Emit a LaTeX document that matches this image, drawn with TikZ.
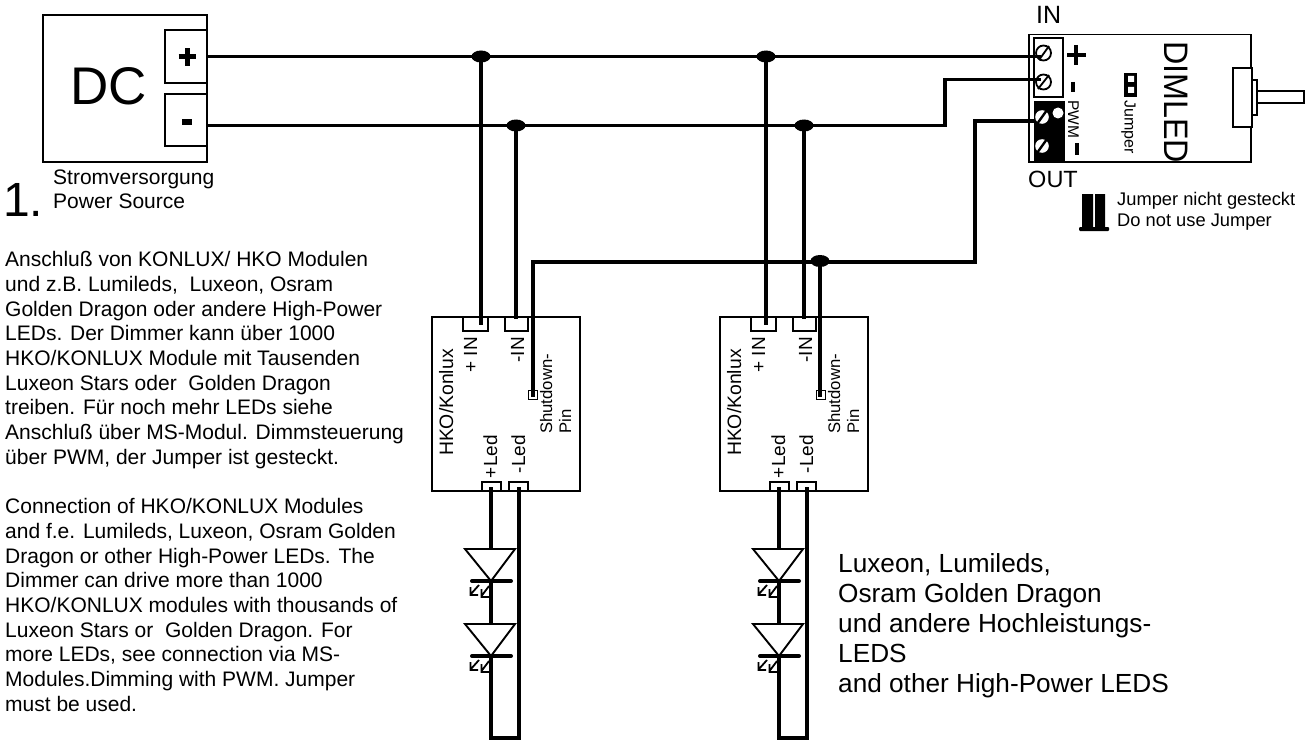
\documentclass[tikz,border=0pt]{standalone}
\usepackage{fontspec}
\setmainfont{Liberation Sans}
\usetikzlibrary{shapes.geometric}
\tikzset{
 wire/.style={line width=3.8pt},
 thin box/.style={draw,line width=1.7pt,fill=white},
 txt/.style={inner sep=0pt,font=\fontsize{#1}{#1}\selectfont},
 rtxt/.style={inner sep=0pt,rotate=90,anchor=base east,font=\fontsize{#1}{#1}\selectfont},
 rstxt/.style={inner sep=0pt,rotate=90,anchor=base west,font=\fontsize{#1}{#1}\selectfont},
 dot/.style={ellipse,fill=black,inner sep=0pt,minimum width=19pt,minimum height=12pt},
 para/.style={inner sep=0pt,anchor=north west,align=left,font=\fontsize{21}{24.65}\selectfont},
 big/.style={inner sep=0pt,anchor=north west,align=left,font=\fontsize{26.2}{30.1}\selectfont},
 lightarrow/.style={line width=1.8pt,line join=miter},
}
\newcommand{\ledpair}[1]{%
  \begin{scope}[xshift=#1pt]
   \foreach \yy in {0,75}{
    \begin{scope}[yshift=-\yy pt]
     \draw[line width=1.9pt,fill=white,line join=miter] (465,549)--(515,549)--(491,581)--cycle;
     \draw[line width=4pt,line cap=round] (472,581)--(511,581);
     \draw[lightarrow] (479,585)--(470.5,594.5) (470.5,587)--(470.5,595)--(478,595);
     \draw[lightarrow] (489,586)--(481.5,596) (481.5,589)--(481.5,597)--(489,597);
    \end{scope}}
  \end{scope}
}
\newcommand{\hkomod}[1]{%
  \begin{scope}[xshift=#1pt]
   \draw[line width=1.9pt] (432,317) rectangle (580,491);
   \draw[thin box] (463,317) rectangle (488,331);
   \draw[thin box] (505,317) rectangle (528,331);
   \draw[thin box] (482,482) rectangle (501,491);
   \draw[thin box] (509,482) rectangle (528,491);
   \draw[thin box] (528.5,390.5) rectangle (537.5,399.5);
   \draw[wire] (491,487)--(491,549);
   \draw[wire] (491,581)--(491,624);
   \draw[wire] (491,656)--(491,738)--(519,738)--(519,487);
   \node[rtxt=19.4] at (453,349) {HKO/Konlux};
   \node[rtxt=19] at (477,337) {+ IN};
   \node[rtxt=19] at (524,337) {-IN};
   \node[rtxt=19] at (497,435) {+Led};
   \node[rtxt=19] at (525,435) {-Led};
   \node[rstxt=16.7] at (552,434) {Shutdown-};
   \node[rstxt=16.7] at (571,434) {Pin};
  \end{scope}
}
\begin{document}
\begin{tikzpicture}[x=1pt,y=-1pt]
\useasboundingbox (0,0) rectangle (1313,741);
% modules
\hkomod{0}
\hkomod{288}
\ledpair{0}
\ledpair{288}
% junctions
\node[dot] (j1) at (481,56.5) {};
\node[dot] (j2) at (516,125.5) {};
\node[dot] (j3) at (766,56.5) {};
\node[dot] (j4) at (804,125.5) {};
\node[dot] (j5) at (820,261) {};
% DC
\draw[line width=1.7pt] (43,15) rectangle (207,162);
\draw[line width=1.7pt] (207,30)--(165,30)--(165,83)--(207,83);
\draw[line width=1.7pt] (207,94)--(165,94)--(165,146)--(207,146);
\coordinate (dcp) at (207,56.5);
\coordinate (dcm) at (207,125.5);
\node[txt=53] (dc) at (108.5,86.5) {DC};
\draw[line width=5pt] (178.5,57)--(195.5,57) (187,48.5)--(187,66);
\draw[line width=5pt] (182,122)--(192,122);
\node[para,font=\fontsize{21}{24.5}\selectfont] (src) at (53,169.5) {Stromversorgung\\Power Source};
\node[txt=48,anchor=base west] (one) at (3,216) {1.};
% texts
\node[para] (de) at (5,251.5) {Anschluß von KONLUX/ HKO Modulen\\und z.B. Lumileds,\ \ Luxeon, Osram\\Golden Dragon oder andere High-Power\\LEDs. Der Dimmer kann über 1000\\HKO/KONLUX Module mit Tausenden\\Luxeon Stars oder\ \ Golden Dragon\\treiben. Für noch mehr LEDs siehe\\Anschluß über MS-Modul. Dimmsteuerung\\über PWM, der Jumper ist gesteckt.};
\node[para] (en) at (5,498.5) {Connection of HKO/KONLUX Modules\\and f.e. Lumileds, Luxeon, Osram Golden\\Dragon or other High-Power LEDs. The\\Dimmer can drive more than 1000\\HKO/KONLUX modules with thousands of\\Luxeon Stars or\ \ Golden Dragon. For\\more LEDs, see connection via MS-\\Modules.Dimming with PWM. Jumper\\must be used.};
\node[big] (lx) at (838,553) {Luxeon, Lumileds,\\Osram Golden Dragon\\und andere Hochleistungs-\\LEDS\\and other High-Power LEDS};
% DIMLED
\draw[line width=1.9pt] (1029,34.5) rectangle (1251,162);
\draw[line width=1.5pt,fill=white] (1034,38) rectangle (1063,97);
\fill (1034,101) rectangle (1065,162);
\draw[line width=1.8pt,fill=white] (1043.5,53) circle (7.5pt);
\draw[line width=1.8pt,fill=white] (1043.5,82) circle (7.5pt);
\draw[line width=1.8pt] (1039,60)--(1049,46) (1038,89)--(1049,75);
\fill[white] (1042,117) circle (6.8pt) (1042,146) circle (6.8pt) (1058,113) circle (5.5pt);
\draw[line width=2.4pt] (1037,124)--(1047,110) (1037,153)--(1047,139);
\coordinate (inp) at (1041,56.5);
\coordinate (inm) at (1041,79.5);
\coordinate (pwmin) at (1034,121);
% wires
\draw[wire] (dcp)--(inp);
\draw[wire] (dcm)--(945,125.5)--(945,79.5)--(inm);
\draw[wire] (pwmin)--(975,121)--(975,262)--(533,262)--(533,397);
\draw[wire] (820,262)--(820,397);
\draw[wire] (j1.center)--(481,325);
\draw[wire] (j2.center)--(516,319);
\draw[wire] (j3.center)--(766,325);
\draw[wire] (j4.center)--(804,319);
\draw[line width=4pt] (1067,55)--(1086,55) (1076,45)--(1076,65);
\draw[line width=4pt] (1073,82)--(1073,92);
\draw[line width=4pt] (1077,143)--(1077,155);
\node[txt=15.5,rotate=-90,anchor=base west] (pwm) at (1068,100) {PWM};
\node[txt=16,rotate=-90,anchor=base west] (jp) at (1124.5,100) {Jumper};
\fill (1124,73) rectangle (1137,97);
\fill[white] (1128,76) rectangle (1134,82) (1128,87) rectangle (1134,93);
\node[txt=34,rotate=-90,xscale=0.95,anchor=base west] (dim) at (1164,41) {DIMLED};
\node[txt=25,anchor=base west] (in) at (1036,24) {IN};
\node[txt=23.5,anchor=base west] (out) at (1028,187) {OUT};
\draw[line width=1.9pt,fill=white] (1233,68) rectangle (1252,127);
\draw[line width=1.9pt,fill=white] (1252,80) rectangle (1257,115);
\draw[line width=1.9pt,fill=white] (1257,91) rectangle (1304,103);
% jumper symbol
\fill (1082,194) rectangle (1093,228) (1095,194) rectangle (1105,228);
\fill[rounded corners=1pt] (1079,227) rectangle (1109,231);
\node[para,font=\fontsize{18.3}{21}\selectfont] (jt) at (1117,192.5) {Jumper nicht gesteckt\\Do not use Jumper};
\end{tikzpicture}
\end{document}
